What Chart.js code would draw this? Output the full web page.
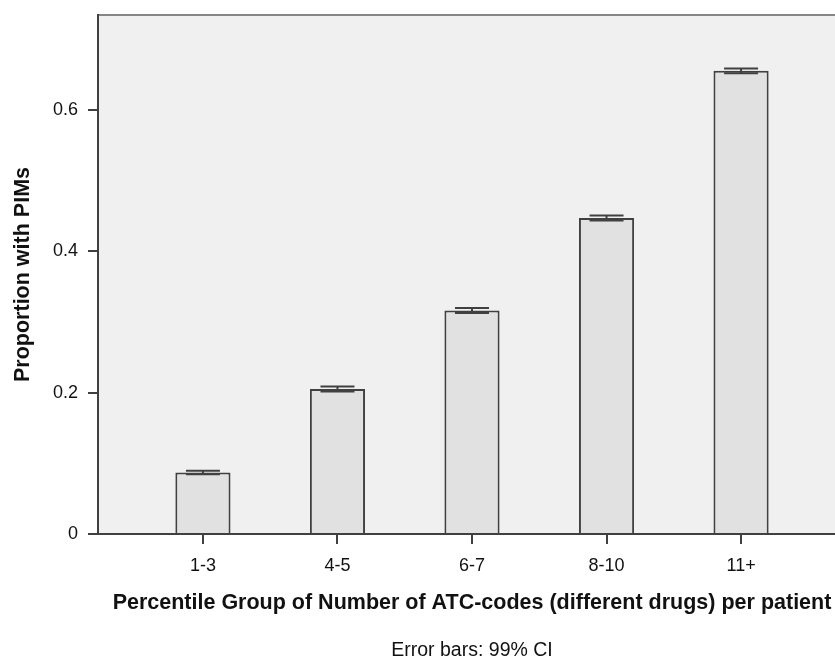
<!DOCTYPE html>
<html>
<head>
<meta charset="utf-8">
<script src="https://cdn.jsdelivr.net/npm/chart.js@4.4.1/dist/chart.umd.min.js"></script>
<style>
  html, body { margin: 0; padding: 0; background: #fff; overflow: hidden; }
  #wrap { width: 846px; height: 661px; }
</style>
</head>
<body>
<div id="wrap"><canvas id="canvas"></canvas></div>
<script>
  // data
  var categories = ['1-3', '4-5', '6-7', '8-10', '11+'];
  var positions = [1, 2, 3, 4, 5];
  var proportions = [0.087, 0.205, 0.316, 0.447, 0.655];
  var ciLow = [0.0845, 0.2015, 0.3125, 0.4435, 0.6515];
  var ciHigh = [0.0895, 0.2085, 0.3195, 0.4505, 0.6585];
  var yTicks = [0, 0.2, 0.4, 0.6];
  var yTickLabels = ['0', '0.2', '0.4', '0.6'];

  var fontFamily = "'Liberation Sans', Arial, sans-serif";

  var plotBackground = {
    id: 'plotBackground',
    beforeDraw: function(chart) {
      var a = chart.chartArea, ctx = chart.ctx;
      ctx.save();
      ctx.fillStyle = '#f0f0f0';
      ctx.fillRect(a.left, a.top, a.right - a.left, a.bottom - a.top);
      ctx.strokeStyle = '#858585';
      ctx.lineWidth = 2;
      ctx.beginPath();
      ctx.moveTo(a.left, a.top);
      ctx.lineTo(a.right, a.top);
      ctx.stroke();
      ctx.restore();
    }
  };

  var errorBars = {
    id: 'errorBars',
    afterDatasetsDraw: function(chart) {
      var ctx = chart.ctx, xs = chart.scales.x, ys = chart.scales.y;
      ctx.save();
      ctx.strokeStyle = '#404040';
      ctx.lineWidth = 2;
      for (var i = 0; i < positions.length; i++) {
        var x = xs.getPixelForValue(positions[i]);
        var lo = ys.getPixelForValue(ciLow[i]);
        var hi = ys.getPixelForValue(ciHigh[i]);
        ctx.beginPath();
        ctx.moveTo(x, lo); ctx.lineTo(x, hi);
        ctx.moveTo(x - 17, lo); ctx.lineTo(x + 17, lo);
        ctx.moveTo(x - 17, hi); ctx.lineTo(x + 17, hi);
        ctx.stroke();
      }
      ctx.restore();
    }
  };

  var footnote = {
    id: 'footnote',
    afterDraw: function(chart) {
      var a = chart.chartArea, ctx = chart.ctx;
      ctx.save();
      ctx.fillStyle = '#111';
      ctx.font = '19.5px ' + fontFamily;
      ctx.textAlign = 'center';
      ctx.textBaseline = 'middle';
      ctx.fillText('Error bars: 99% CI', (a.left + a.right) / 2, 651);
      ctx.restore();
    }
  };

  var config = {
    type: 'bar',
    data: {
      datasets: [{
        data: positions.map(function(p, i) { return {x: p, y: proportions[i]}; }),
        backgroundColor: '#e1e1e1',
        borderColor: '#404040',
        borderWidth: 2,
        barPercentage: 0.41,
        categoryPercentage: 1
      }]
    },
    options: {
      responsive: true,
      maintainAspectRatio: false,
      animation: false,
      layout: { padding: { top: 15, left: 0, right: 0, bottom: 0 } },
      plugins: {
        legend: { display: false },
        tooltip: { enabled: false }
      },
      scales: {
        x: {
          type: 'linear',
          offset: false,
          min: 0.22,
          max: 5.78,
          afterBuildTicks: function(scale) {
            scale.ticks = positions.map(function(p) { return {value: p}; });
          },
          afterFit: function(scale) { scale.height = 127; },
          ticks: {
            autoSkip: false,
            maxRotation: 0,
            padding: 11,
            color: '#111',
            font: { family: fontFamily, size: 18 },
            callback: function(v) {
              var i = positions.indexOf(v);
              return i >= 0 ? categories[i] : '';
            }
          },
          grid: { offset: false, drawOnChartArea: false, drawTicks: true, tickLength: 10, color: '#404040', lineWidth: 2 },
          border: { display: true, color: '#404040', width: 2 },
          title: {
            display: true,
            text: 'Percentile Group of Number of ATC-codes (different drugs) per patient',
            color: '#111',
            font: { family: fontFamily, size: 21.5, weight: 'bold' },
            padding: { top: 0, bottom: 45 }
          }
        },
        y: {
          min: 0,
          max: 0.734,
          afterBuildTicks: function(scale) {
            scale.ticks = yTicks.map(function(v) { return {value: v}; });
          },
          afterFit: function(scale) {
            scale.width = 98;
            scale.paddingTop = 0;
          },
          ticks: {
            padding: 10,
            color: '#111',
            font: { family: fontFamily, size: 18 },
            callback: function(v) {
              var i = yTicks.indexOf(v);
              return i >= 0 ? yTickLabels[i] : '';
            }
          },
          grid: { drawOnChartArea: false, drawTicks: true, tickLength: 10, color: '#404040', lineWidth: 2 },
          border: { display: true, color: '#404040', width: 2 },
          title: {
            display: true,
            text: 'Proportion with PIMs',
            color: '#111',
            font: { family: fontFamily, size: 21.5, weight: 'bold' },
            padding: { top: 10, bottom: 0 }
          }
        }
      }
    },
    plugins: [plotBackground, errorBars, footnote]
  };

  window.onload = function() {
    window.myBar = new Chart(document.getElementById('canvas'), config);
  };
</script>
</body>
</html>
